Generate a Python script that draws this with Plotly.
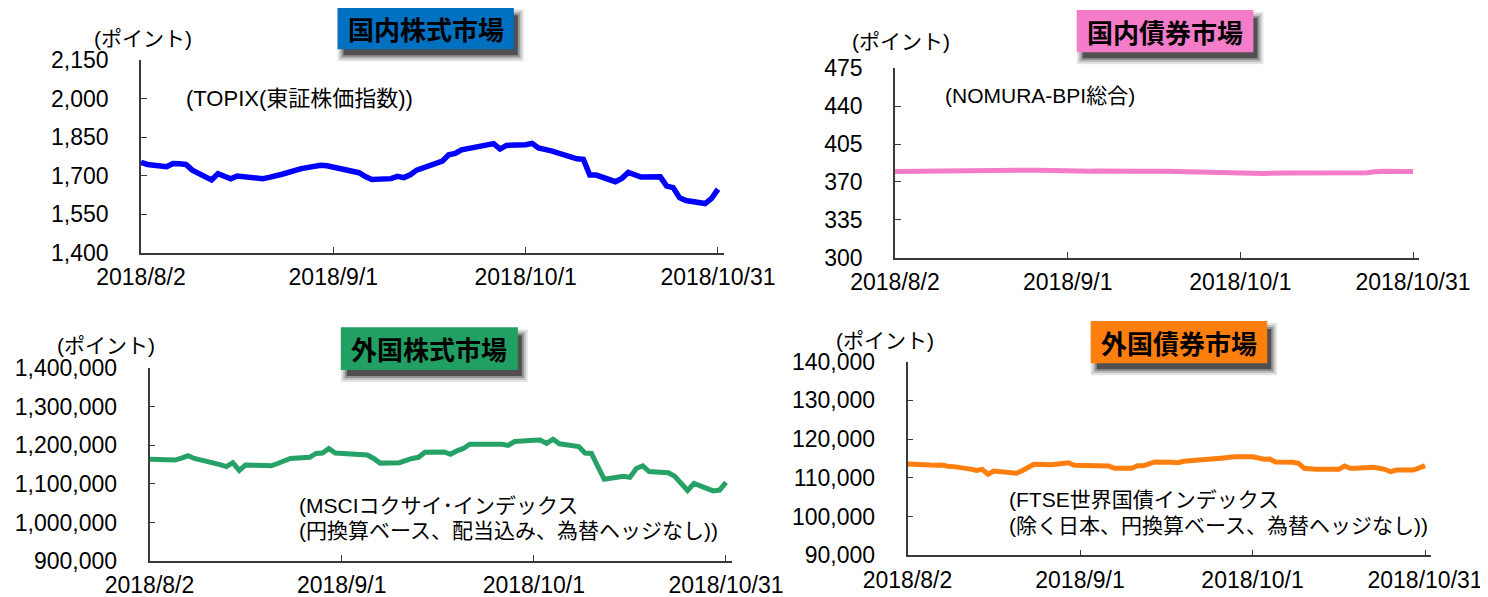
import plotly.graph_objects as go

# The page body has an 8px margin, so the figure is drawn 8px in from the window's corner.
OFF = 8
W, H = 1488 - OFF, 597 - OFF

# ---------------- data ----------------
dates_jp = [
    "2018-08-02", "2018-08-03", "2018-08-06", "2018-08-07", "2018-08-08", "2018-08-09", "2018-08-10",
    "2018-08-13", "2018-08-14", "2018-08-15", "2018-08-16", "2018-08-17", "2018-08-20", "2018-08-21",
    "2018-08-22", "2018-08-23", "2018-08-24", "2018-08-27", "2018-08-28", "2018-08-29", "2018-08-30",
    "2018-08-31", "2018-09-03", "2018-09-04", "2018-09-05", "2018-09-06", "2018-09-07", "2018-09-10",
    "2018-09-11", "2018-09-12", "2018-09-13", "2018-09-14", "2018-09-18", "2018-09-19", "2018-09-20",
    "2018-09-21", "2018-09-25", "2018-09-26", "2018-09-27", "2018-09-28", "2018-10-01", "2018-10-02",
    "2018-10-03", "2018-10-04", "2018-10-05", "2018-10-09", "2018-10-10", "2018-10-11", "2018-10-12",
    "2018-10-15", "2018-10-16", "2018-10-17", "2018-10-18", "2018-10-19", "2018-10-22", "2018-10-23",
    "2018-10-24", "2018-10-25", "2018-10-26", "2018-10-29", "2018-10-30", "2018-10-31",
]

dates_fx = [
    "2018-08-02", "2018-08-03", "2018-08-06", "2018-08-07", "2018-08-08", "2018-08-09", "2018-08-10",
    "2018-08-13", "2018-08-14", "2018-08-15", "2018-08-16", "2018-08-17", "2018-08-20", "2018-08-21",
    "2018-08-22", "2018-08-23", "2018-08-24", "2018-08-27", "2018-08-28", "2018-08-29", "2018-08-30",
    "2018-08-31", "2018-09-03", "2018-09-04", "2018-09-05", "2018-09-06", "2018-09-07", "2018-09-10",
    "2018-09-11", "2018-09-12", "2018-09-13", "2018-09-14", "2018-09-17", "2018-09-18", "2018-09-19",
    "2018-09-20", "2018-09-21", "2018-09-24", "2018-09-25", "2018-09-26", "2018-09-27", "2018-09-28",
    "2018-10-01", "2018-10-02", "2018-10-03", "2018-10-04", "2018-10-05", "2018-10-08", "2018-10-09",
    "2018-10-10", "2018-10-11", "2018-10-12", "2018-10-15", "2018-10-16", "2018-10-17", "2018-10-18",
    "2018-10-19", "2018-10-22", "2018-10-23", "2018-10-24", "2018-10-25", "2018-10-26", "2018-10-29",
    "2018-10-30", "2018-10-31",
]

topix = [
    1752, 1744, 1735, 1748, 1747, 1744, 1722,
    1684, 1708, 1700, 1688, 1699, 1695, 1689,
    1694, 1699, 1706, 1728, 1732, 1738, 1741,
    1739, 1726, 1721, 1712, 1697, 1686, 1689,
    1698, 1693, 1704, 1722, 1757, 1782, 1787,
    1801, 1823, 1825, 1804, 1818, 1821, 1826,
    1808, 1803, 1797, 1766, 1764, 1703, 1703,
    1677, 1690, 1713, 1705, 1695, 1696, 1660,
    1654, 1615, 1604, 1592, 1612, 1648,
]

nomura_bpi = [
    379.6, 379.7, 380.0, 380.1, 380.2, 380.3, 380.4,
    380.4, 380.5, 380.5, 380.6, 380.6, 380.7, 380.7,
    380.8, 380.8, 380.8, 380.8, 380.6, 380.4, 380.2,
    380.0, 379.6, 379.7, 379.9, 380.1, 380.2, 380.2,
    380.1, 380.0, 380.0, 379.9, 379.9, 379.8, 379.2,
    378.7, 378.6, 378.6, 378.5, 378.4, 378.4, 378.3,
    378.2, 377.8, 377.9, 378.3, 378.3, 378.2, 378.2,
    378.1, 378.1, 378.0, 378.0, 378.0, 378.0, 378.5,
    379.2, 379.8, 379.9, 379.7, 379.6, 379.6,
]

msci_kokusai = [
    1163900, 1163500, 1162000, 1167000, 1173000, 1166000, 1162500,
    1150000, 1145000, 1155000, 1135000, 1149000, 1148000, 1147000,
    1153000, 1160000, 1166000, 1169000, 1179000, 1180000, 1192000,
    1180000, 1177000, 1175000, 1175000, 1166000, 1154000, 1155000,
    1161000, 1166000, 1169000, 1182000, 1183000, 1177000, 1186000,
    1192000, 1203000, 1204000, 1205000, 1203000, 1200000, 1210000,
    1213000, 1214000, 1205000, 1216000, 1204000, 1197000, 1180000,
    1179000, 1145000, 1112000, 1120000, 1117000, 1140000, 1147000,
    1132000, 1129000, 1120000, 1102000, 1083000, 1101000, 1082000,
    1084000, 1104000,
]

ftse_wgbi = [
    113580, 113450, 113300, 113280, 113320, 113000, 112900,
    112250, 111900, 112200, 110950, 111750, 111400, 111200,
    111900, 112800, 113500, 113400, 113500, 113660, 113900,
    113250, 113150, 113100, 113070, 113060, 112470, 112470,
    113140, 113140, 113600, 114100, 114000, 113920, 114280,
    114450, 114610, 114850, 115000, 115150, 115300, 115460,
    115460, 115100, 114790, 114870, 114100, 114020, 113760,
    112470, 112300, 112210, 112210, 112210, 113060, 112470,
    112470, 112750, 112500, 112210, 111590, 112030, 112030,
    112500, 113140,
]

x_tick_vals = ["2018-08-02", "2018-09-01", "2018-10-01", "2018-10-31"]
x_tick_text = ["2018/8/2", "2018/9/1", "2018/10/1", "2018/10/31"]

y_ticks_topix = [1400, 1550, 1700, 1850, 2000, 2150]
y_ticks_bpi = [300, 335, 370, 405, 440, 475]
y_ticks_msci = [900000, 1000000, 1100000, 1200000, 1300000, 1400000]
y_ticks_ftse = [90000, 100000, 110000, 120000, 130000, 140000]

titles = ["国内株式市場", "国内債券市場", "外国株式市場", "外国債券市場"]
notes = [
    ["(TOPIX(東証株価指数))"],
    ["(NOMURA-BPI総合)"],
    ["(MSCIコクサイ･インデックス", "(円換算ベース、配当込み、為替ヘッジなし))"],
    ["(FTSE世界国債インデックス", "(除く日本、円換算ベース、為替ヘッジなし))"],
]
unit_label = "(ポイント)"

# ---------------- style ----------------
FONT = "Liberation Sans, Arial, Noto Sans CJK JP"
JFONT = "Liberation Sans, Noto Sans CJK JP"
AX = "#3a3a3a"
TICK_SIZE = 23
LINE_COLORS = ["#0000FF", "#F47CC8", "#27A266", "#FF7F0E"]
BOX_COLORS = ["#0070C0", "#F47CC8", "#22A063", "#FF7F0E"]


def fx(p):
    return (p - OFF) / W


def fy(p):
    return 1 - (p - OFF) / H


# panel geometry in window pixels: (x of 8/2, x of 11/1, y bottom, y top)
panels = [
    dict(x0=141, x1=724.4, yb=253, yt=60, yr=[1400, 2150], yt_vals=y_ticks_topix),
    dict(x0=895, x1=1418.8, yb=257.7, yt=68.3, yr=[300, 475], yt_vals=y_ticks_bpi),
    dict(x0=149.5, x1=732.4, yb=561, yt=368.3, yr=[900000, 1400000], yt_vals=y_ticks_msci),
    dict(x0=907.5, x1=1430.8, yb=555.3, yt=361.7, yr=[90000, 140000], yt_vals=y_ticks_ftse),
]

series = [(dates_jp, topix), (dates_jp, nomura_bpi), (dates_fx, msci_kokusai), (dates_fx, ftse_wgbi)]

fig = go.Figure()
layout = dict(
    width=W, height=H, margin=dict(l=0, r=0, t=0, b=0, pad=0, autoexpand=False),
    paper_bgcolor="white", plot_bgcolor="white", showlegend=False,
    font=dict(family=FONT, size=21, color="black"),
)

for i, (p, (d, v)) in enumerate(zip(panels, series)):
    n = "" if i == 0 else str(i + 1)
    fig.add_trace(go.Scatter(
        x=d, y=v, mode="lines", xaxis="x" + n, yaxis="y" + n,
        line=dict(color=LINE_COLORS[i], width=5.5 if i == 0 else 5),
        hoverinfo="skip",
    ))
    layout["xaxis" + n] = dict(
        type="date", domain=[fx(p["x0"]), fx(p["x1"])], range=["2018-08-02", "2018-11-01"],
        anchor="y" + n, showline=True, linecolor=AX, linewidth=1.5,
        ticks="inside", ticklen=6, tickwidth=1.3, tickcolor=AX,
        tickvals=x_tick_vals, ticktext=x_tick_text,
        tickfont=dict(family=FONT, size=TICK_SIZE, color="black"),
        showgrid=False, zeroline=False, ticklabelstandoff=3, automargin=False,
    )
    layout["yaxis" + n] = dict(
        domain=[fy(p["yb"]), fy(p["yt"])], range=p["yr"], anchor="x" + n,
        showline=True, linecolor=AX, linewidth=1.5,
        ticks="inside", ticklen=6, tickwidth=1.3, tickcolor=AX,
        tickvals=p["yt_vals"], tickformat=",d",
        tickfont=dict(family=FONT, size=TICK_SIZE, color="black"),
        showgrid=False, zeroline=False, ticklabelstandoff=26, automargin=False,
    )

fig.update_layout(**layout)

# ---------------- title boxes with drop shadow ----------------
boxes = [
    (337.5, 7.3, 513.8, 49.3),
    (1076.8, 10.0, 1253.4, 52.3),
    (340.8, 327.3, 517.9, 370.0),
    (1090.7, 321.0, 1267.2, 363.3),
]
shapes = []
annotations = []
for i, (bx0, by0, bx1, by1) in enumerate(boxes):
    dx, dy = 5, 7
    for grow, op in [(5, 0.10), (3, 0.15), (1, 0.25), (-1, 0.45)]:
        shapes.append(dict(
            type="rect", xref="paper", yref="paper", layer="above",
            x0=fx(bx0 + dx - grow), x1=fx(bx1 + dx + grow),
            y0=fy(by1 + dy + grow), y1=fy(by0 + dy - grow),
            fillcolor="black", opacity=op, line=dict(width=0),
        ))
    shapes.append(dict(
        type="rect", xref="paper", yref="paper", layer="above",
        x0=fx(bx0), x1=fx(bx1), y0=fy(by1), y1=fy(by0),
        fillcolor=BOX_COLORS[i], line=dict(width=0),
    ))
    annotations.append(dict(
        xref="paper", yref="paper", x=fx((bx0 + bx1) / 2), y=fy((by0 + by1) / 2),
        xanchor="center", yanchor="middle", showarrow=False,
        text="<b>" + titles[i] + "</b>",
        font=dict(family="Noto Sans CJK JP", size=26, color="black"),
    ))

# unit labels
unit_pos = [(92, 38), (850, 41.7), (55, 345), (834, 340)]
for ux, uy in unit_pos:
    annotations.append(dict(
        xref="paper", yref="paper", x=fx(ux), y=fy(uy), xanchor="left", yanchor="middle",
        showarrow=False, text=unit_label, font=dict(family=JFONT, size=21, color="black"),
    ))

# index notes
note_sizes = [22, 21, 21, 21]
note_pos = [[(184, 98)], [(943, 96)], [(297, 505), (297, 530)], [(1007, 499.3), (1007, 525)]]
for lines, poss, fs in zip(notes, note_pos, note_sizes):
    for txt, (nx, ny) in zip(lines, poss):
        annotations.append(dict(
            xref="paper", yref="paper", x=fx(nx), y=fy(ny), xanchor="left", yanchor="middle",
            showarrow=False, text=txt, font=dict(family=JFONT, size=fs, color="black"),
        ))

fig.update_layout(shapes=shapes, annotations=annotations)
fig.write_html("out.html")
